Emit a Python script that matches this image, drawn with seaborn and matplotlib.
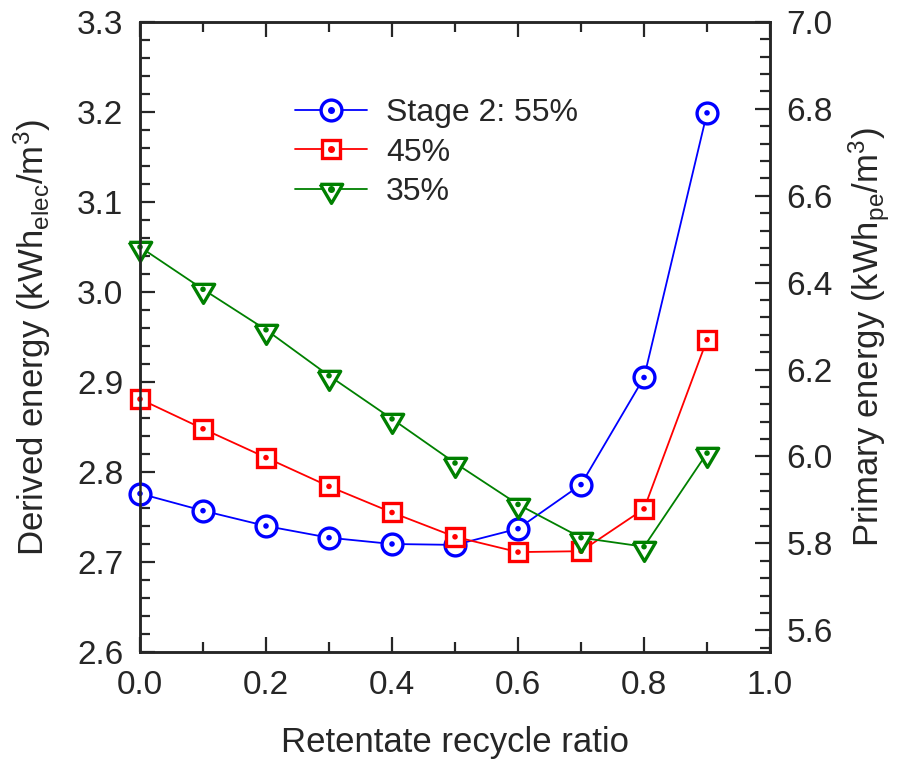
import numpy as np
import pandas as pd
import matplotlib
matplotlib.use('Agg')
import matplotlib.pyplot as plt
import seaborn as sns
from matplotlib.ticker import AutoMinorLocator, MultipleLocator
from matplotlib.legend_handler import HandlerTuple

# data
ratio = [0.0, 0.1, 0.2, 0.3, 0.4, 0.5, 0.6, 0.7, 0.8, 0.9]
stage55 = [2.776, 2.757, 2.740, 2.727, 2.720, 2.719, 2.737, 2.786, 2.905, 3.199]
stage45 = [2.881, 2.848, 2.816, 2.784, 2.755, 2.728, 2.711, 2.712, 2.759, 2.947]
stage35 = [3.050, 3.003, 2.958, 2.907, 2.859, 2.810, 2.764, 2.727, 2.717, 2.821]
labels = ['Stage 2: 55%', '45%', '35%']
colors = ['#0000ff', '#ff0000', '#008000']

# down triangle sitting a bit below its point, like the original
tri = [(-1.0, 0.46), (1.0, 0.46), (0.0, -1.24), (-1.0, 0.46)]
markers = ['o', 's', tri]
msizes = [15, 13, 20]

sns.set_style('ticks')
plt.rcParams['font.family'] = ['Liberation Sans', 'DejaVu Sans']
plt.rcParams['mathtext.default'] = 'regular'
plt.rcParams['xtick.direction'] = 'in'
plt.rcParams['ytick.direction'] = 'in'

fig = plt.figure(figsize=(8.98, 7.6), dpi=100)
ax = fig.add_axes([0.1559, 0.1421, 0.7016, 0.8290])

handles = []
for i, (vals, lab, c, m, ms) in enumerate(zip([stage55, stage45, stage35], labels, colors, markers, msizes)):
    df = pd.DataFrame({'ratio': ratio, 'energy': vals})
    sns.lineplot(data=df, x='ratio', y='energy', ax=ax, color=c, marker=m,
                 markersize=ms, markerfacecolor='white', markeredgecolor=c,
                 markeredgewidth=2.4, linewidth=1.3, zorder=3 + 2 * i,
                 clip_on=False, legend=False)
    sns.scatterplot(data=df, x='ratio', y='energy', ax=ax, color=c, s=16,
                    edgecolor='none', zorder=4 + 2 * i, clip_on=False, legend=False)
    ln = plt.Line2D([], [], color=c, marker=m, markersize=ms, markerfacecolor='white',
                    markeredgecolor=c, markeredgewidth=2.4, linewidth=1.3)
    dot = plt.Line2D([], [], color=c, marker='o', markersize=4, linestyle='none')
    handles.append((ln, dot))

ax.set_xlim(0, 1.0)
ax.set_ylim(2.6, 3.3)
ax.xaxis.set_major_locator(MultipleLocator(0.2))
ax.xaxis.set_minor_locator(AutoMinorLocator(2))
ax.yaxis.set_major_locator(MultipleLocator(0.1))
ax.yaxis.set_minor_locator(AutoMinorLocator(5))
ax.set_xticklabels([f'{v:.1f}' for v in ax.get_xticks()])
ax.set_yticklabels([f'{v:.1f}' for v in ax.get_yticks()])
ax.tick_params(which='major', length=11, width=1.6, labelsize=24, top=True)
ax.tick_params(which='minor', length=7, width=1.6, top=True)
ax.tick_params(axis='x', which='major', pad=13)
ax.tick_params(axis='y', which='major', pad=12)
ax.tick_params(axis='y', right=False, which='both')
ax.set_xlabel('Retentate recycle ratio', fontsize=25, labelpad=18)
ax.set_ylabel('Derived energy (kWh$_{elec}$/m$^3$)', fontsize=25, labelpad=17)
for s in ax.spines.values():
    s.set_linewidth(1.8)

ax2 = ax.twinx()
ax2.set_ylim(5.55, 7.0)
ax2.set_yticks(np.arange(5.6, 7.01, 0.2))
ax2.yaxis.set_minor_locator(AutoMinorLocator(5))
ax2.set_yticklabels([f'{v:.1f}' for v in np.arange(5.6, 7.01, 0.2)])
ax2.tick_params(which='major', length=11, width=1.6, labelsize=24, pad=12)
ax2.tick_params(which='minor', length=7, width=1.6)
ax2.set_ylabel('Primary energy (kWh$_{pe}$/m$^3$)', fontsize=25, labelpad=10)
for s in ax2.spines.values():
    s.set_linewidth(1.8)

ax.legend(handles, labels, handler_map={tuple: HandlerTuple(ndivide=1)},
          loc='upper left', bbox_to_anchor=(0.2, 0.925), frameon=False,
          fontsize=23, handlelength=2.25, handletextpad=0.6, labelspacing=0.3)

fig.savefig('out.png', dpi=100)
